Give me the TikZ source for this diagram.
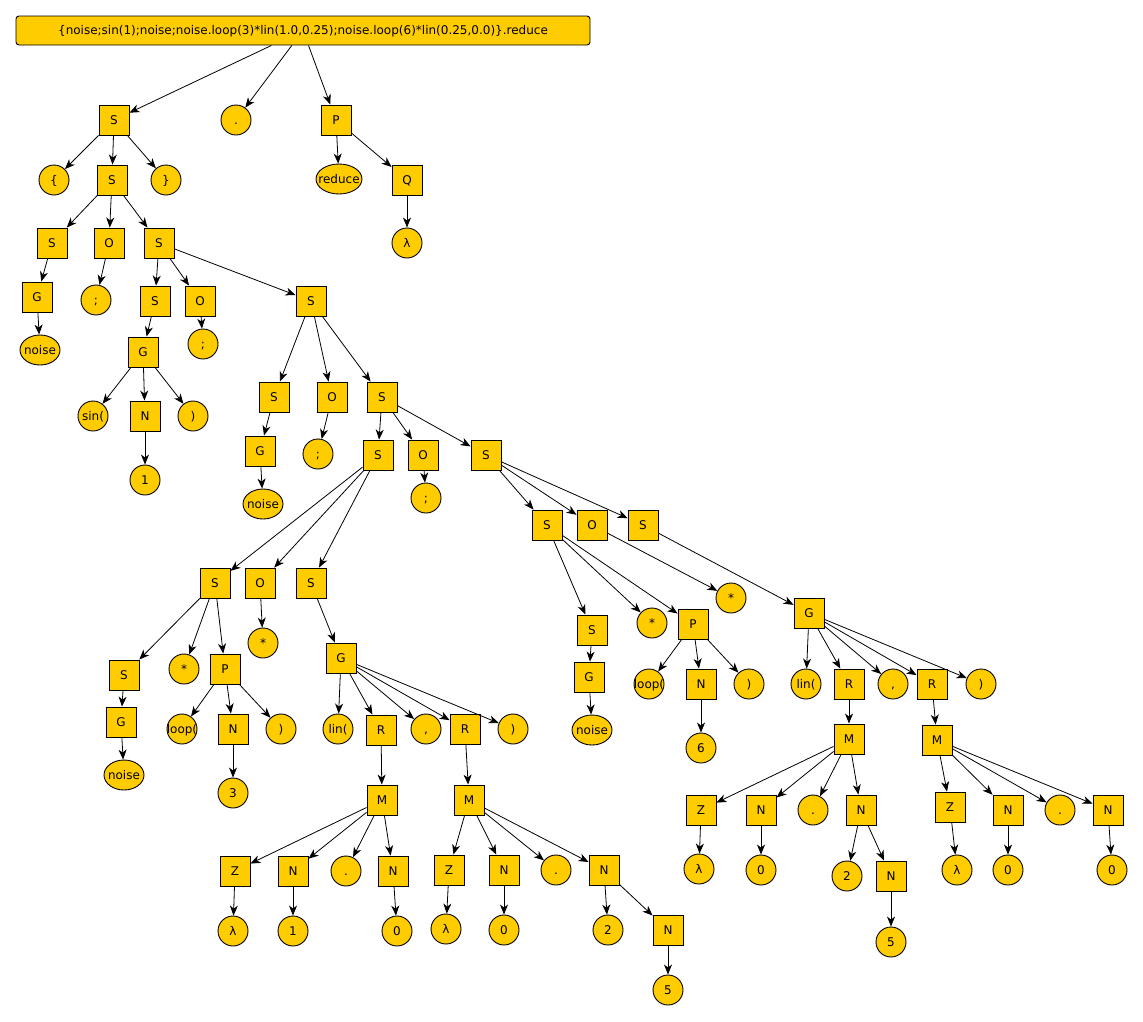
\documentclass[tikz,border=0pt]{standalone}
\usepackage{fontspec}
\setmainfont{DejaVu Sans}
\usetikzlibrary{arrows.meta,shapes.geometric}
\definecolor{nodeyellow}{RGB}{255,204,0}
\tikzset{
  base/.style={draw=black, line width=0.9pt, fill=nodeyellow, inner sep=0pt,
    font=\fontsize{12}{14}\selectfont, text height=8.7pt, text depth=0pt},
  box/.style={base, rectangle, minimum width=30pt, minimum height=30pt},
  circ/.style={base, circle, minimum size=30pt},
  ell/.style={base, ellipse, minimum height=30pt, minimum width=#1},
  rootbox/.style={base, rectangle, rounded corners=3pt, minimum width=574pt, minimum height=29pt},
  edge/.style={draw=black, line width=0.8pt, -{Stealth[length=10pt,width=8pt,inset=3pt]}}
}
% node text is centred without widening the fixed-size shapes
\newcommand{\lbl}[1]{\makebox[0pt][c]{#1}}
\begin{document}
\begin{tikzpicture}[x=1pt, y=-1pt]
\useasboundingbox (0,0) rectangle (1143,1021);

% root expression
\node[rootbox] (root) at (303,30.5) {\lbl{\{noise;sin(1);noise;noise.loop(3)*lin(1.0,0.25);noise.loop(6)*lin(0.25,0.0)\}.reduce}};

% top levels
\node[box]  (S1)    at (114,120) {S};
\node[circ] (dot1)  at (236,120) {.};
\node[box]  (P1)    at (336,120) {P};
\node[circ] (lb)    at (54,180)  {\{};
\node[box]  (S2)    at (112,180) {S};
\node[circ] (rb)    at (166,180) {\}};
\node[ell=46pt] (red) at (339,179) {\lbl{reduce}};
\node[box]  (Q)     at (407,180) {Q};
\node[circ] (lam0)  at (407,243) {λ};

\node[box]  (S3)    at (52,243)  {S};
\node[box]  (O1)    at (109,243) {O};
\node[box]  (S4)    at (159,243) {S};
\node[box]  (G1)    at (37,297)  {G};
\node[ell=40pt] (n1) at (40,350) {\lbl{noise}};
\node[circ] (semi1) at (96,300)  {;};
\node[box]  (S5)    at (155,301) {S};
\node[box]  (O2)    at (200,301) {O};
\node[box]  (S6)    at (311,301) {S};
\node[box]  (G2)    at (143,352) {G};
\node[circ] (semi2) at (203,344) {;};
\node[circ] (sin)   at (93,416)  {\lbl{sin(}};
\node[box]  (N1)    at (145,416) {N};
\node[circ] (rp1)   at (193,416) {)};
\node[circ] (one1)  at (145,480) {1};

\node[box]  (S7)    at (274,397) {S};
\node[box]  (O3)    at (332,397) {O};
\node[box]  (S8)    at (382,397) {S};
\node[box]  (G3)    at (260,451) {G};
\node[ell=40pt] (n2) at (263,504) {\lbl{noise}};
\node[circ] (semi3) at (318,454) {;};
\node[box]  (S9)    at (378,455) {S};
\node[box]  (O4)    at (423,455) {O};
\node[box]  (S10)   at (486,455) {S};
\node[circ] (semi4) at (426,498) {;};

% noise.loop(3)*lin(1.0,0.25)
\node[box]  (S11)   at (215,583) {S};
\node[box]  (O5)    at (260,583) {O};
\node[box]  (S12)   at (311,583) {S};
\node[box]  (S13)   at (124,675) {S};
\node[circ] (star1) at (184,669) {*};
\node[box]  (P2)    at (225,669) {P};
\node[box]  (G4)    at (121,722) {G};
\node[ell=40pt] (n3) at (124,775) {\lbl{noise}};
\node[circ] (loop1) at (182,729) {\lbl{loop(}};
\node[box]  (N2)    at (233,729) {N};
\node[circ] (rp2)   at (281,729) {)};
\node[circ] (three) at (233,793) {3};
\node[circ] (star2) at (263,643) {*};
\node[box]  (G5)    at (341,658) {G};
\node[circ] (lin1)  at (338,729) {\lbl{lin(}};
\node[box]  (R1)    at (381,730) {R};
\node[circ] (comma1) at (426,729) {,};
\node[box]  (R2)    at (465,729) {R};
\node[circ] (rp3)   at (513,729) {)};
\node[box]  (M1)    at (382,800) {M};
\node[box]  (M2)    at (469,800) {M};
\node[box]  (Z1)    at (235,871) {Z};
\node[box]  (N3)    at (293,871) {N};
\node[circ] (dot2)  at (346,871) {.};
\node[box]  (N4)    at (393,871) {N};
\node[circ] (lam1)  at (233,931) {λ};
\node[circ] (one2)  at (293,931) {1};
\node[circ] (zero1) at (397,931) {0};
\node[box]  (Z2)    at (449,870) {Z};
\node[box]  (N5)    at (504,870) {N};
\node[circ] (dot3)  at (556,870) {.};
\node[box]  (N6)    at (604,870) {N};
\node[circ] (lam2)  at (446,929) {λ};
\node[circ] (zero2) at (504,930) {0};
\node[circ] (two1)  at (608,930) {2};
\node[box]  (N7)    at (668,930) {N};
\node[circ] (five1) at (668,990) {5};

% noise.loop(6)*lin(0.25,0.0)
\node[box]  (S14)   at (547,525) {S};
\node[box]  (O6)    at (592,525) {O};
\node[box]  (S15)   at (643,525) {S};
\node[box]  (S16)   at (592,630) {S};
\node[circ] (star3) at (652,623) {*};
\node[box]  (P3)    at (693,624) {P};
\node[box]  (G6)    at (589,677) {G};
\node[ell=40pt] (n4) at (592,730) {\lbl{noise}};
\node[circ] (loop2) at (649,684) {\lbl{loop(}};
\node[box]  (N8)    at (701,684) {N};
\node[circ] (rp4)   at (749,684) {)};
\node[circ] (six)   at (701,748) {6};
\node[circ] (star4) at (731,598) {*};
\node[box]  (G7)    at (809,613) {G};
\node[circ] (lin2)  at (806,684) {\lbl{lin(}};
\node[box]  (R3)    at (849,684) {R};
\node[circ] (comma2) at (893,684) {,};
\node[box]  (R4)    at (932,684) {R};
\node[circ] (rp5)   at (981,684) {)};
\node[box]  (M3)    at (849,739) {M};
\node[box]  (M4)    at (937,740) {M};
\node[box]  (Z3)    at (701,810) {Z};
\node[box]  (N9)    at (761,810) {N};
\node[circ] (dot4)  at (813,810) {.};
\node[box]  (N10)   at (861,810) {N};
\node[circ] (lam3)  at (699,869) {λ};
\node[circ] (zero3) at (761,870) {0};
\node[circ] (two2)  at (847,876) {2};
\node[box]  (N11)   at (891,876) {N};
\node[circ] (five2) at (891,942) {5};
\node[box]  (Z4)    at (950,807) {Z};
\node[box]  (N12)   at (1008,810) {N};
\node[circ] (dot5)  at (1060,810) {.};
\node[box]  (N13)   at (1108,810) {N};
\node[circ] (lam4)  at (957,870) {λ};
\node[circ] (zero4) at (1008,870) {0};
\node[circ] (zero5) at (1112,870) {0};

% parse-tree edges
\foreach \a/\b in {
  root/S1, root/dot1, root/P1,
  S1/lb, S1/S2, S1/rb,
  P1/red, P1/Q, Q/lam0,
  S2/S3, S2/O1, S2/S4,
  S3/G1, G1/n1, O1/semi1,
  S4/S5, S4/O2, S4/S6,
  S5/G2, G2/sin, G2/N1, G2/rp1, N1/one1,
  O2/semi2,
  S6/S7, S6/O3, S6/S8,
  S7/G3, G3/n2, O3/semi3,
  S8/S9, S8/O4, S8/S10,
  O4/semi4,
  S9/S11, S9/O5, S9/S12,
  S11/S13, S11/star1, S11/P2,
  S13/G4, G4/n3,
  P2/loop1, P2/N2, P2/rp2, N2/three,
  O5/star2,
  S12/G5,
  G5/lin1, G5/R1, G5/comma1, G5/R2, G5/rp3,
  R1/M1, R2/M2,
  M1/Z1, M1/N3, M1/dot2, M1/N4,
  Z1/lam1, N3/one2, N4/zero1,
  M2/Z2, M2/N5, M2/dot3, M2/N6,
  Z2/lam2, N5/zero2, N6/two1, N6/N7, N7/five1,
  S10/S14, S10/O6, S10/S15,
  S14/S16, S14/star3, S14/P3,
  S16/G6, G6/n4,
  P3/loop2, P3/N8, P3/rp4, N8/six,
  O6/star4,
  S15/G7,
  G7/lin2, G7/R3, G7/comma2, G7/R4, G7/rp5,
  R3/M3, R4/M4,
  M3/Z3, M3/N9, M3/dot4, M3/N10,
  Z3/lam3, N9/zero3, N10/two2, N10/N11, N11/five2,
  M4/Z4, M4/N12, M4/dot5, M4/N13,
  Z4/lam4, N12/zero4, N13/zero5}
  \draw[edge] (\a) -- (\b);
\end{tikzpicture}
\end{document}
